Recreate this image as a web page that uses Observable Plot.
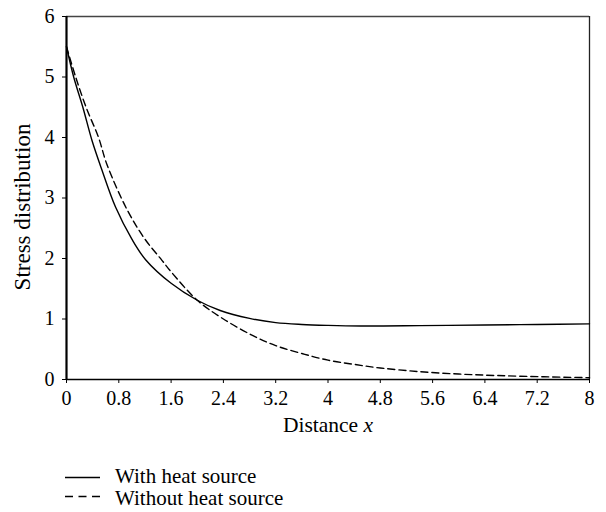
<!DOCTYPE html>
<html>
<head>
<meta charset="utf-8">
<script src="https://cdn.jsdelivr.net/npm/d3@7"></script>
<script src="https://cdn.jsdelivr.net/npm/@observablehq/plot@0.6"></script>
<style>
  body { margin: 0; background: #fff; font-family: "Liberation Serif", serif; }
  #legend { font-family: "Liberation Serif", serif; font-size: 21px; color: #000; padding-top: 15px; }
  .item { display: flex; align-items: flex-start; height: 22px; line-height: 22px; margin-left: 65px; }
  .item svg { margin-right: 14px; display: block; }
</style>
</head>
<body>
<div id="chart"></div>
<div id="legend"></div>
<script>
const seriesNames = ["With heat source", "Without heat source"];

const xWith = [0, 0.11, 0.25, 0.39, 0.53, 0.75, 1.0, 1.21, 1.6, 2.0, 2.35, 2.8, 3.2, 3.6, 4.0, 4.5, 5.4, 6.4, 7.2, 8];
const yWith = [5.5, 5.0, 4.5, 3.95, 3.5, 2.85, 2.32, 1.98, 1.59, 1.31, 1.14, 1.01, 0.94, 0.91, 0.895, 0.885, 0.89, 0.9, 0.91, 0.92];

const xWithout = [0, 0.14, 0.3, 0.49, 0.62, 0.93, 1.2, 1.46, 1.6, 2.0, 2.4, 2.86, 3.2, 3.6, 4.0, 4.4, 4.8, 5.4, 6.0, 6.6, 7.3, 8];
const yWithout = [5.5, 5.0, 4.5, 4.0, 3.55, 2.8, 2.32, 1.97, 1.78, 1.31, 1.0, 0.72, 0.56, 0.43, 0.32, 0.25, 0.19, 0.13, 0.09, 0.065, 0.045, 0.03];

const xTicks = [0, 0.8, 1.6, 2.4, 3.2, 4, 4.8, 5.6, 6.4, 7.2, 8];
const xTickLabels = ["0", "0.8", "1.6", "2.4", "3.2", "4", "4.8", "5.6", "6.4", "7.2", "8"];
const yTicks = [0, 1, 2, 3, 4, 5, 6];
const yTickLabels = ["0", "1", "2", "3", "4", "5", "6"];

const withData = xWith.map((x, i) => ({x, y: yWith[i]}));
const withoutData = xWithout.map((x, i) => ({x, y: yWithout[i]}));

const font = "Liberation Serif";
const fsTick = 20;
const fsLabel = 21.5;
const fsYLabel = 23;

const chart = Plot.plot({
  width: 606,
  height: 450,
  marginLeft: 66,
  marginRight: 17,
  marginTop: 16,
  marginBottom: 71,
  style: {fontFamily: font, fontSize: fsTick + "px", color: "#000", background: "#fff"},
  x: {domain: [0, 8]},
  y: {domain: [0, 6]},
  marks: [
    Plot.ruleY([6], {stroke: "#444", strokeWidth: 1.3}),
    Plot.ruleX([8], {stroke: "#222", strokeWidth: 1.3}),
    Plot.axisX({ticks: xTicks, tickFormat: (d, i) => xTickLabels[i], tickSize: 4, tickPadding: 7, label: null, fontSize: fsTick}),
    Plot.axisY({ticks: yTicks, tickFormat: (d, i) => yTickLabels[i], tickSize: 4, tickPadding: 8, label: null, fontSize: fsTick}),
    Plot.lineY(withoutData, {x: "x", y: "y", stroke: "#000", strokeWidth: 1.4, strokeDasharray: "7,4", curve: "catmull-rom"}),
    Plot.lineY(withData, {x: "x", y: "y", stroke: "#000", strokeWidth: 1.4, curve: "catmull-rom"}),
    Plot.ruleY([0], {stroke: "#000", strokeWidth: 1.5}),
    Plot.ruleX([0], {stroke: "#000", strokeWidth: 2.2}),
    Plot.text(["Distance x"], {frameAnchor: "bottom", dy: 52, fontSize: fsLabel, fill: "#000"}),
    Plot.text(["Stress distribution"], {frameAnchor: "left", textAnchor: "middle", dx: -44, dy: 9, rotate: -90, fontSize: fsYLabel, fill: "#000"})
  ]
});

d3.select(chart).selectAll("text").filter(function() { return this.textContent === "Distance x"; })
  .each(function() {
    const t = d3.select(this);
    t.text(null);
    t.append("tspan").text("Distance ");
    t.append("tspan").attr("font-style", "italic").text("x");
  });

document.getElementById("chart").appendChild(chart);

const legend = d3.select("#legend");
const dashes = [null, "8,5.5"];
const sampleY = [12.5, 9.5];
seriesNames.forEach((name, i) => {
  const row = legend.append("div").attr("class", "item");
  const s = row.append("svg").attr("width", 36).attr("height", 22);
  s.append("line").attr("x1", 0).attr("x2", 35).attr("y1", sampleY[i]).attr("y2", sampleY[i])
    .attr("stroke", "#000").attr("stroke-width", 1.3)
    .attr("stroke-dasharray", dashes[i]);
  row.append("span").text(name);
});
</script>
</body>
</html>
